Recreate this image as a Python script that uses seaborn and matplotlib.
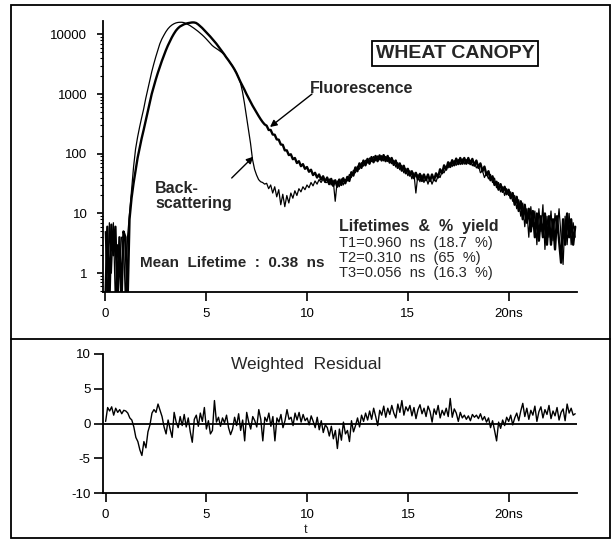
import numpy as np
import pandas as pd
import matplotlib
matplotlib.use("Agg")
import matplotlib.pyplot as plt
import seaborn as sns
from matplotlib.patches import Rectangle
from matplotlib.lines import Line2D
from matplotlib.ticker import FixedLocator, LogLocator, NullFormatter

# ---------------- data (0.1 ns channels) ----------------
fluorescence = [
    0.3, 6, 0.3, 6.5, 2, 6, 0.3, 4, 0.3, 5,
    4, 0.3, 8, 18, 32, 52, 85, 125, 180, 250,
    355, 500, 710, 1000, 1320, 1740, 2240, 2820, 3550, 4360,
    5370, 6460, 7590, 8900, 10200, 11500, 12600, 13500, 14100, 14700,
    15100, 15400, 15600, 15800, 15800, 15500, 14700, 13700, 12800, 11800,
    10900, 10000, 9200, 8400, 7700, 7000, 6300, 5700, 5100, 4600,
    4100, 3700, 3300, 2950, 2600, 2250, 1900, 1600, 1380, 1180,
    1000, 860, 740, 640, 560, 490, 430, 380, 340, 310,
    295, 250, 250, 210, 208, 174, 172, 143, 141, 114,
    114, 95, 98, 81, 85, 70, 75, 62, 67, 56,
    60, 50, 54, 44, 48, 40, 45, 37, 42, 34,
    40, 31, 38, 29, 36, 28, 37, 30, 39, 32,
    41, 35, 49, 43, 59, 51, 69, 58, 77, 64,
    82, 68, 88, 72, 92, 75, 94, 77, 95, 75,
    92, 71, 85, 65, 77, 58, 69, 52, 63, 47,
    56, 43, 51, 39, 48, 37, 46, 35, 45, 36,
    45, 35, 45, 36, 47, 40, 55, 47, 64, 54,
    72, 60, 78, 64, 83, 67, 85, 68, 85, 68,
    85, 67, 82, 63, 77, 58, 69, 51, 61, 44,
    51, 36, 42, 30, 34, 25, 31, 23, 28, 21,
    25, 18, 22, 14, 19, 11, 16, 8, 14, 7,
    12, 5, 11, 4, 10, 3.5, 9, 4, 10, 3,
    9, 3, 8, 2.5, 9, 3.5, 1.5, 8, 3, 10,
    4, 8, 3, 6,
]

backscattering = [
    5, 0.3, 7, 1, 7, 0.3, 3, 1, 4, 4,
    0.3, 4, 10, 25, 60, 120, 190, 280, 400, 560,
    830, 1170, 1660, 2340, 3160, 4170, 5370, 6900, 8300, 9600,
    11000, 12300, 13400, 14300, 15000, 15500, 15800, 15900, 15900, 15700,
    15100, 14600, 14000, 13300, 12600, 11900, 11200, 10500, 9800, 9100,
    8400, 7700, 7100, 6500, 6100, 5800, 5500, 5200, 4900, 4600,
    4100, 3700, 3300, 2950, 2600, 2250, 1900, 1550, 1100, 700,
    420, 250, 150, 80, 55, 44, 37, 34, 33, 31,
    32, 26, 30, 22, 28, 19, 25, 14, 21, 13,
    20, 15, 22, 18, 24, 20, 26, 23, 28, 25,
    30, 27, 33, 29, 35, 31, 37, 33, 38, 33,
    33, 38, 30, 36, 16, 35, 28, 38, 30, 37,
    35, 45, 40, 53, 48, 62, 55, 71, 62, 78,
    70, 85, 74, 90, 76, 92, 79, 93, 76, 90,
    74, 86, 68, 78, 60, 71, 54, 64, 48, 57,
    43, 52, 38, 48, 22, 45, 34, 44, 33, 41,
    31, 40, 31, 38, 34, 43, 40, 51, 48, 60,
    58, 72, 61, 77, 64, 80, 66, 82, 67, 80,
    68, 78, 63, 72, 58, 64, 48, 52, 40, 47,
    38, 45, 33, 39, 27, 33, 23, 28, 20, 26,
    20, 23, 16, 20, 12, 17, 9, 15, 6, 12,
    4, 13, 6, 11, 3, 12, 5, 14, 2.5, 9,
    4, 11, 3.5, 10, 5, 12, 4, 1.4, 9, 3,
    10, 3, 7, 4,
]

weighted_residual = [
    0.3, 2.3, 1.8, 2.4, 1.2, 2.2, 1.6, 2.0, 1.4, 1.9,
    1.8, 1.5, 0.8, 0.5, -0.5, -2.0, -2.6, -3.8, -4.6, -2.6,
    -3.5, -1.2, -0.2, 1.5, 2.0, 1.6, 2.8, 1.9, 1.0, -0.5,
    -1.5, 0.5, -0.8, -2.0, 1.6, 0.2, -0.6, 1.0, -0.3, 1.3,
    -0.5, 0.8, -1.2, -2.7, 0.6, 1.2, -0.4, 1.5, 0.3, 2.3,
    -0.8, 0.4, -1.5, -1.0, 3.3, 0.2, 0.9, -0.4, 0.8, 0.1,
    1.2, -0.6, -1.6, -0.8, 0.9, -0.3, 1.4, -1.0, 0.5, -2.5,
    1.6, 0.2, -0.8, 1.0, 0.4, -0.5, 2.0, 0.6, -2.5, 0.9,
    0.3, 1.5, -0.4, 1.0, -2.5, 0.8, 0.2, 1.3, -0.6, 0.4,
    2.0, 0.6, 0.9, -0.3, 1.5, 0.5, 1.6, 0.2, 1.3, 0.4,
    0.8, -0.2, 1.1, 0.3, -0.6, 0.9, -0.9, 0.4, -1.3, -0.2,
    -0.6, -1.8, -0.4, -2.2, -1.0, -3.6, -0.8, -2.4, 0.2, -1.5,
    -1.0, -2.6, 0.4, -1.2, -0.3, 0.8, -0.5, 1.2, 0.3, 1.5,
    0.5, 1.8, 0.6, 2.2, 1.0, -0.3, 1.9, 1.2, 2.5, 0.9,
    2.2, 1.3, 2.6, 1.5, 0.8, 2.8, 1.6, 3.3, 1.2, 2.4,
    1.8, 2.6, 1.1, 2.3, 0.7, 2.0, 2.7, 1.4, 2.2, 1.0,
    2.5, 1.7, 0.2, 2.1, 1.3, 2.6, 0.8, 1.9, 1.2, 2.2,
    1.0, 3.6, 0.9, 2.1, 1.5, 0.3, 1.6, 0.8, 1.2, 0.6,
    1.1, 0.4, 1.3, 0.9, 1.2, 0.7, 1.4, 0.5, 1.0, 0.2,
    0.8, -0.6, 0.4, -1.0, -2.5, 0.2, -0.7, 0.5, -0.3, 0.9,
    0.3, 1.2, -0.2, 0.8, 1.5, 0.4, 1.8, 2.9, 1.0, 2.2,
    0.6, 1.9, 1.2, 2.5, 0.3, 1.7, 2.4, 0.8, 2.0, 1.3,
    2.6, 0.7, 1.8, 1.1, 2.3, 0.5, 1.6, 2.1, 0.4, 2.8,
    1.5, 2.2, 1.2, 1.4,
]

channel_width_ns = 0.1
time_ns = np.round(np.arange(len(fluorescence)) * channel_width_ns, 2)

x_tick_values = [0, 5, 10, 15, 20]
x_tick_labels = ["0", "5", "10", "15", "20ns"]
top_y_ticks = [1, 10, 100, 1000, 10000]
top_y_labels = ["1", "10", "100", "1000", "10000"]
res_y_ticks = [-10, -5, 0, 5, 10]
res_y_labels = ["-10", "-5", "0", "5", "10"]

title_text = "WHEAT CANOPY"
lifetime_lines = ["T1=0.960  ns  (18.7  %)",
                  "T2=0.310  ns  (65  %)",
                  "T3=0.056  ns  (16.3  %)"]

df = pd.DataFrame({"t": time_ns,
                   "Fluorescence": fluorescence,
                   "Backscattering": backscattering,
                   "Residual": weighted_residual})

# ---------------- figure ----------------
sns.set_theme(style="white")
plt.rcParams["font.family"] = ["Liberation Sans", "DejaVu Sans"]

W, H = 612, 540
fig = plt.figure(figsize=(W / 100, H / 100), dpi=100)
fig.patch.set_facecolor("white")


def fx(px):
    return px / W


def fy(py):
    return 1 - py / H


ax1 = fig.add_axes([fx(102.7), fy(291.7), (577 - 102.7) / W, (291.7 - 20.7) / H])
ax2 = fig.add_axes([fx(103), fy(493), (577 - 103) / W, (493 - 354) / H])

for ax in (ax1, ax2):
    ax.set_facecolor("white")
    ax.patch.set_alpha(0)

sns.lineplot(data=df, x="t", y="Backscattering", ax=ax1, color="black",
             linewidth=0.9, estimator=None)
sns.lineplot(data=df, x="t", y="Fluorescence", ax=ax1, color="black",
             linewidth=1.7, estimator=None)
ax1.set_yscale("log")
ax1.set_ylim(0.49, 16900)
ax1.set_xlim(-0.13, 23.39)

sns.lineplot(data=df, x="t", y="Residual", ax=ax2, color="black",
             linewidth=1.0, estimator=None)
ax2.axhline(0, color="black", linewidth=1.3, zorder=1)
ax2.set_ylim(-10, 10)
ax2.set_xlim(-0.13, 23.39)

for ax in (ax1, ax2):
    ax.set_xlabel("")
    ax.set_ylabel("")
    for s in ("top", "right"):
        ax.spines[s].set_visible(False)
    for s in ("left", "bottom"):
        ax.spines[s].set_color("black")
        ax.spines[s].set_linewidth(1.3)
    ax.set_xticks(x_tick_values)
    ax.set_xticklabels(x_tick_labels)

ax1.yaxis.set_major_locator(FixedLocator(top_y_ticks))
ax1.set_yticklabels(top_y_labels)
ax1.yaxis.set_minor_locator(LogLocator(base=10, subs=np.arange(2, 10)))
ax1.yaxis.set_minor_formatter(NullFormatter())
ax1.tick_params(axis="y", which="major", direction="out", length=4.5, width=1.2,
                pad=6.5, labelsize=9.5, colors="black", left=True)
ax1.tick_params(axis="y", which="minor", direction="out", length=2.5, width=0.8,
                left=True, colors="black")
ax1.tick_params(axis="x", which="major", direction="out", length=6.5, width=1.2,
                pad=5, labelsize=9.5, colors="black", bottom=True)

ax2.set_yticks(res_y_ticks)
ax2.set_yticklabels(res_y_labels)
ax2.tick_params(axis="y", direction="out", length=6.5, width=1.2, pad=2.5,
                labelsize=9.5, colors="black", left=True)
ax2.tick_params(axis="x", direction="out", length=6.5, width=1.2, pad=5,
                labelsize=9.5, colors="black", bottom=True)

# ---------------- annotations ----------------
fig.text(fx(455), fy(53.5), title_text, ha="center", va="center",
         fontsize=14, fontweight="bold",
         bbox=dict(boxstyle="square,pad=0.2", fc="white", ec="black", lw=1.3))

fig.text(fx(310), fy(89), "Fluorescence", ha="left", va="center",
         fontsize=11.5, fontweight="bold")
ax1.annotate("", xy=(fx(270), fy(127)), xycoords="figure fraction",
             xytext=(fx(312), fy(94)), textcoords="figure fraction",
             arrowprops=dict(arrowstyle="-|>", color="black", lw=1,
                             mutation_scale=10, shrinkA=0, shrinkB=0))

fig.text(fx(155), fy(196), "Back-\nscattering", ha="left", va="center",
         fontsize=11.5, fontweight="bold", linespacing=1.05)
ax1.annotate("", xy=(fx(253.3), fy(156.7)), xycoords="figure fraction",
             xytext=(fx(231.7), fy(178)), textcoords="figure fraction",
             arrowprops=dict(arrowstyle="-|>", color="black", lw=1,
                             mutation_scale=10, shrinkA=0, shrinkB=0))

fig.text(fx(140), fy(263.3), "Mean  Lifetime  :  0.38  ns", ha="left",
         va="center", fontsize=11, fontweight="bold")
fig.text(fx(339), fy(227), "Lifetimes  &  %  yield", ha="left", va="center",
         fontsize=11.5, fontweight="bold")
for line, ypx in zip(lifetime_lines, [243, 258, 273]):
    fig.text(fx(339), fy(ypx), line, ha="left", va="center", fontsize=10.5)

fig.text(fx(306.5), fy(365), "Weighted  Residual", ha="center", va="center",
         fontsize=12.5)
fig.text(fx(306), fy(530), "t", ha="center", va="center", fontsize=9)

# frame and divider
fig.add_artist(Rectangle((fx(11), fy(538)), (610 - 11) / W, (538 - 5) / H,
                         transform=fig.transFigure, fill=False,
                         ec="black", lw=1.3))
fig.add_artist(Line2D([fx(11), fx(610)], [fy(339), fy(339)],
                      transform=fig.transFigure, color="black", lw=1.3))

fig.savefig("out.png", dpi=100, facecolor="white")
